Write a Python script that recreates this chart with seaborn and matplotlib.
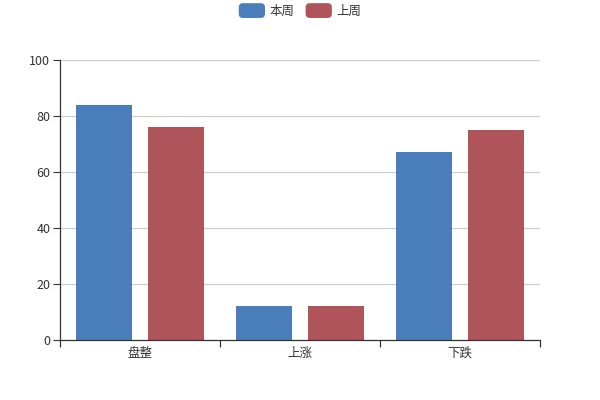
import matplotlib
matplotlib.use('Agg')
import matplotlib.pyplot as plt
import pandas as pd
import seaborn as sns
from matplotlib.patches import FancyBboxPatch
from matplotlib.legend_handler import HandlerPatch

# data
categories = ['盘整', '上涨', '下跌']
this_week = [84, 12, 67]
last_week = [76, 12, 75]
series_names = ['本周', '上周']
colors = ['#4a7ebb', '#af5458']

df = pd.DataFrame({
    'cat': categories * 2,
    'value': this_week + last_week,
    'series': [series_names[0]] * 3 + [series_names[1]] * 3,
})

sns.set_style('white')
plt.rcParams['font.family'] = ['Noto Sans CJK SC', 'DejaVu Sans']


class RoundHandler(HandlerPatch):
    def create_artists(self, legend, orig_handle, xdescent, ydescent,
                       width, height, fontsize, trans):
        p = FancyBboxPatch((-xdescent, -ydescent - 1), width, height + 2,
                           boxstyle='round,pad=0,rounding_size=3',
                           facecolor=orig_handle.get_facecolor(),
                           edgecolor='none', transform=trans)
        return [p]


fig = plt.figure(figsize=(6, 4), dpi=100)
ax = fig.add_axes([0.1, 0.15, 0.8, 0.7])

sns.barplot(data=df, x='cat', y='value', hue='series', palette=colors,
            width=0.9, gap=0.222, ax=ax, saturation=1, edgecolor='none')

ax.set_xlim(-0.5, 2.5)
ax.set_ylim(0, 100)
ax.set_yticks([0, 20, 40, 60, 80, 100])
ax.yaxis.grid(True, color='#cccccc', linewidth=0.8)
ax.set_axisbelow(True)
ax.set_xlabel('')
ax.set_ylabel('')

for s in ['top', 'right']:
    ax.spines[s].set_visible(False)
for s in ['left', 'bottom']:
    ax.spines[s].set_color('#333333')
    ax.spines[s].set_linewidth(0.9)

ax.tick_params(axis='y', which='major', left=True, length=5, color='#333333',
               labelsize=9, labelcolor='#333333', pad=2)
ax.tick_params(axis='x', which='major', bottom=False, length=0,
               labelsize=9, labelcolor='#333333', pad=5)
ax.set_xticks([-0.5, 0.5, 1.5, 2.5], minor=True)
ax.tick_params(axis='x', which='minor', bottom=True, length=5,
               color='#333333', width=0.9)

handles, labels = ax.get_legend_handles_labels()
if ax.legend_:
    ax.legend_.remove()
fig.legend(handles, labels, loc='center', bbox_to_anchor=(0.5, 0.972),
           ncol=2, frameon=False, fontsize=9, handlelength=2.1,
           handleheight=1.1, handletextpad=0.35, columnspacing=0.9,
           handler_map={h: RoundHandler() for h in handles},
           labelcolor='#333333')

fig.savefig('out.png', dpi=100)
